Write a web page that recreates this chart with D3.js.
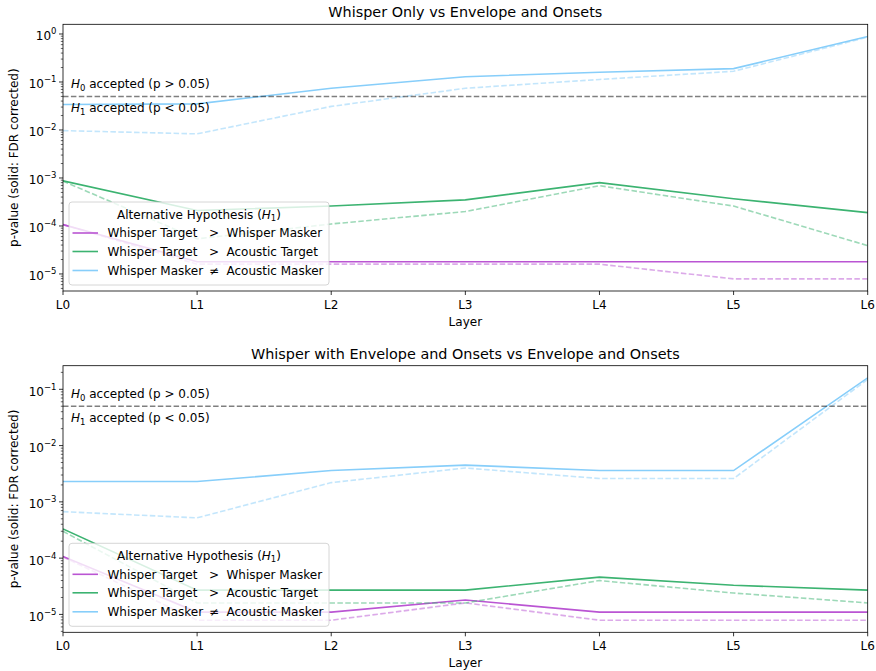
<!DOCTYPE html>
<html>
<head>
<meta charset="utf-8">
<script src="https://cdn.jsdelivr.net/npm/d3@7"></script>
<style>
body { margin: 0; background: #fff; }
svg { font-family: "DejaVu Sans", sans-serif; }
</style>
</head>
<body>
<svg id="fig" width="876" height="671"></svg>
<script>
// DATA
var layers = ["L0", "L1", "L2", "L3", "L4", "L5", "L6"];
var panelTitles = ["Whisper Only vs Envelope and Onsets",
                   "Whisper with Envelope and Onsets vs Envelope and Onsets"];
var alpha = 0.05;

// panel 1 - solid = FDR corrected, dashed = raw
var p1TargetMaskerFdr   = [1.07e-4, 1.8e-5, 1.8e-5, 1.8e-5, 1.8e-5, 1.8e-5, 1.8e-5];
var p1TargetMaskerRaw   = [1.07e-4, 1.6e-5, 1.6e-5, 1.6e-5, 1.6e-5, 7.9e-6, 7.9e-6];
var p1TargetAcousticFdr = [8.7e-4, 2.1e-4, 2.6e-4, 3.5e-4, 8.0e-4, 3.7e-4, 1.9e-4];
var p1TargetAcousticRaw = [8.6e-4, 5.4e-5, 1.1e-4, 2.0e-4, 6.9e-4, 2.6e-4, 3.9e-5];
var p1MaskerAcousticFdr = [0.034, 0.035, 0.074, 0.129, 0.159, 0.19, 0.89];
var p1MaskerAcousticRaw = [0.0097, 0.0083, 0.031, 0.074, 0.113, 0.167, 0.86];

// panel 2
var p2TargetMaskerFdr   = [1.07e-4, 1.1e-5, 1.1e-5, 1.8e-5, 1.1e-5, 1.1e-5, 1.1e-5];
var p2TargetMaskerRaw   = [1.05e-4, 7.9e-6, 7.9e-6, 1.6e-5, 7.9e-6, 7.9e-6, 7.9e-6];
var p2TargetAcousticFdr = [3.3e-4, 2.7e-5, 2.7e-5, 2.7e-5, 4.6e-5, 3.3e-5, 2.7e-5];
var p2TargetAcousticRaw = [3.0e-4, 1.6e-5, 1.6e-5, 1.6e-5, 4.0e-5, 2.4e-5, 1.6e-5];
var p2MaskerAcousticFdr = [2.3e-3, 2.3e-3, 3.6e-3, 4.5e-3, 3.6e-3, 3.6e-3, 0.16];
var p2MaskerAcousticRaw = [6.7e-4, 5.2e-4, 2.2e-3, 4.0e-3, 2.6e-3, 2.6e-3, 0.15];

// legend labels
var legLeft  = ["Whisper Target", "Whisper Target", "Whisper Masker"];
var legOp    = [">", ">", "\u2260"];
var legRight = ["Whisper Masker", "Acoustic Target", "Acoustic Masker"];
var colors   = ["#ba55d3", "#3cb371", "#87cefa"];

var fs = 12; // base font px

var svg = d3.select("#fig");

// make one panel
function drawPanel(top, bottom, title, fdr, raw) {
	var x0 = 63, x1 = 867.7;
	var g = svg.append("g");

	// log autoscale w/ 5% margin like mpl
	var all = d3.merge(fdr.concat(raw));
	var lmin = Math.log10(d3.min(all)), lmax = Math.log10(d3.max(all));
	var m = (lmax - lmin) * 0.05;
	var y = d3.scaleLog().domain([Math.pow(10, lmin - m), Math.pow(10, lmax + m)]).range([bottom, top]);
	var x = d3.scalePoint().domain(layers).range([x0, x1]);

	var clipId = "clip" + Math.round(top);
	g.append("clipPath").attr("id", clipId).append("rect")
		.attr("x", x0).attr("y", top).attr("width", x1 - x0).attr("height", bottom - top);

	var line = d3.line().x(function(d, i) { return x(layers[i]); }).y(function(d) { return y(d); });
	var plot = g.append("g").attr("clip-path", "url(#" + clipId + ")");

	fdr.forEach(function(s, k) {
		plot.append("path").attr("d", line(raw[k])).attr("fill", "none")
			.attr("stroke", colors[k]).attr("stroke-opacity", 0.5).attr("stroke-width", 1.6)
			.attr("stroke-dasharray", "5.5,2.4");
		plot.append("path").attr("d", line(s)).attr("fill", "none")
			.attr("stroke", colors[k]).attr("stroke-width", 1.6);
	});

	// threshold
	var yh = y(alpha);
	plot.append("line").attr("x1", x0).attr("x2", x1).attr("y1", yh).attr("y2", yh)
		.attr("stroke", "#000").attr("stroke-opacity", 0.5).attr("stroke-width", 1.6)
		.attr("stroke-dasharray", "5.5,2.4");

	hypText(g, x0 + 8, yh - 8, "0", " accepted (p > 0.05)");
	hypText(g, x0 + 8, yh + 16, "1", " accepted (p < 0.05)");

	// ticks - major
	var dom = y.domain();
	var dlo = Math.floor(Math.log10(dom[0])), dhi = Math.ceil(Math.log10(dom[1]));
	for (var d = dlo; d <= dhi; d++) {
		var v = Math.pow(10, d);
		if (v >= dom[0] && v <= dom[1]) {
			var yy = y(v);
			g.append("line").attr("x1", x0 - 4).attr("x2", x0).attr("y1", yy).attr("y2", yy)
				.attr("stroke", "#000").attr("stroke-width", 0.8);
			var t = g.append("text").attr("x", x0 - 6.5).attr("y", yy + 6.5)
				.attr("text-anchor", "end").attr("font-size", fs).attr("fill", "#000");
			t.append("tspan").text("10");
			t.append("tspan").attr("dy", -6).attr("font-size", 8.5)
				.text(d < 0 ? "\u2212" + (-d) : d);
		}
		for (var k = 2; k < 10; k++) {
			var mv = k * v;
			if (mv >= dom[0] && mv <= dom[1]) {
				g.append("line").attr("x1", x0 - 2.2).attr("x2", x0).attr("y1", y(mv)).attr("y2", y(mv))
					.attr("stroke", "#000").attr("stroke-width", 0.6);
			}
		}
	}

	// x axis
	layers.forEach(function(l) {
		g.append("line").attr("x1", x(l)).attr("x2", x(l)).attr("y1", bottom).attr("y2", bottom + 4)
			.attr("stroke", "#000").attr("stroke-width", 0.8);
		g.append("text").attr("x", x(l)).attr("y", bottom + 18).attr("text-anchor", "middle")
			.attr("font-size", fs).text(l);
	});
	g.append("text").attr("x", (x0 + x1) / 2).attr("y", bottom + 34.5).attr("text-anchor", "middle")
		.attr("font-size", fs).text("Layer");

	g.append("text").attr("transform", "translate(18," + ((top + bottom) / 2) + ") rotate(-90)")
		.attr("text-anchor", "middle").attr("font-size", fs).text("p-value (solid: FDR corrected)");

	g.append("text").attr("x", (x0 + x1) / 2).attr("y", top - 7).attr("text-anchor", "middle")
		.attr("font-size", 14.4).text(title);

	// legend
	var lx = x0 + 6, lh = 83, ly = bottom - 6 - lh, lw = 260;
	var leg = g.append("g");
	leg.append("rect").attr("x", lx).attr("y", ly).attr("width", lw).attr("height", lh)
		.attr("rx", 3).attr("fill", "#fff").attr("fill-opacity", 0.8)
		.attr("stroke", "#cccccc").attr("stroke-width", 0.8);
	var lt = leg.append("text").attr("x", lx + lw / 2).attr("y", ly + 16.5).attr("text-anchor", "middle")
		.attr("font-size", fs);
	lt.append("tspan").text("Alternative Hypothesis (");
	lt.append("tspan").attr("font-style", "italic").text("H");
	lt.append("tspan").attr("font-size", 8.5).attr("dy", 2.5).text("1");
	lt.append("tspan").attr("dy", -2.5).text(")");
	var rows = [31, 49.5, 68.5];
	rows.forEach(function(r, k) {
		var ry = ly + r;
		leg.append("line").attr("x1", lx + 3.5).attr("x2", lx + 29).attr("y1", ry).attr("y2", ry)
			.attr("stroke", colors[k]).attr("stroke-width", 1.6);
		var tt = leg.append("text").attr("y", ry + 4.3).attr("font-size", fs);
		tt.append("tspan").attr("x", lx + 38.5).text(legLeft[k]);
		tt.append("tspan").attr("x", lx + 140).text(legOp[k]);
		tt.append("tspan").attr("x", lx + 157.5).text(legRight[k]);
	});

	// frame
	g.append("rect").attr("x", x0).attr("y", top).attr("width", x1 - x0).attr("height", bottom - top)
		.attr("fill", "none").attr("stroke", "#000").attr("stroke-width", 0.8);
}

function hypText(g, x, y, sub, rest) {
	var t = g.append("text").attr("x", x).attr("y", y).attr("font-size", fs);
	t.append("tspan").attr("font-style", "italic").text("H");
	t.append("tspan").attr("font-size", 8.5).attr("dy", 2.5).text(sub);
	t.append("tspan").attr("dy", -2.5).text(rest);
}

drawPanel(24.3, 291, panelTitles[0],
	[p1TargetMaskerFdr, p1TargetAcousticFdr, p1MaskerAcousticFdr],
	[p1TargetMaskerRaw, p1TargetAcousticRaw, p1MaskerAcousticRaw]);
drawPanel(365.7, 632.3, panelTitles[1],
	[p2TargetMaskerFdr, p2TargetAcousticFdr, p2MaskerAcousticFdr],
	[p2TargetMaskerRaw, p2TargetAcousticRaw, p2MaskerAcousticRaw]);
</script>
</body>
</html>
